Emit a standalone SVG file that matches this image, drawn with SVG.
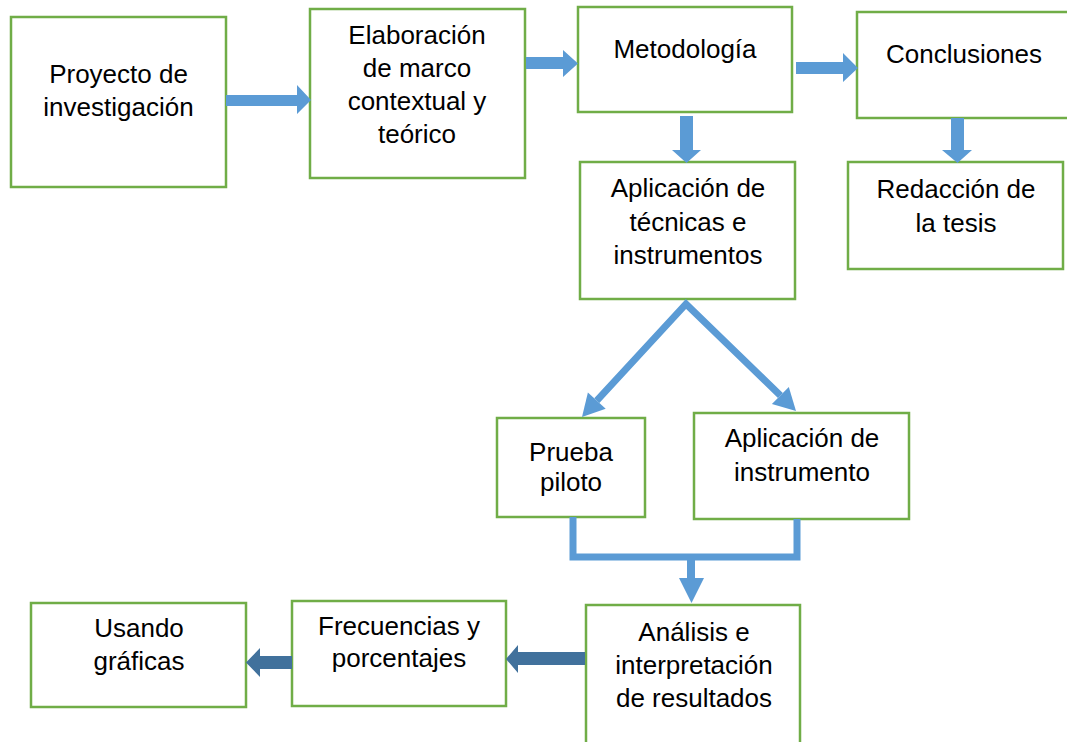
<svg xmlns="http://www.w3.org/2000/svg" width="1067" height="742" viewBox="0 0 1067 742">
<style>
.box{fill:#fff;stroke:#70AD47;stroke-width:2.5}
.t{font-family:"Liberation Sans",Arial,sans-serif;font-size:26px;fill:#000;text-anchor:middle}
.a{fill:#5B9BD5}
.d{fill:#41719C}
.l{fill:none;stroke:#5B9BD5;stroke-width:7}
</style>
<rect width="1067" height="742" fill="#fff"/>
<g id="n1"><rect class="box" x="11" y="17" width="215" height="170"/><text class="t" x="118.5" y="83">Proyecto de</text><text class="t" x="118.5" y="116">investigación</text></g>
<g id="n2"><rect class="box" x="310" y="9" width="215" height="169"/><text class="t" x="417" y="44">Elaboración</text><text class="t" x="417" y="77">de marco</text><text class="t" x="417" y="110">contextual y</text><text class="t" x="417" y="143">teórico</text></g>
<g id="n3"><rect class="box" x="578" y="7" width="214" height="105"/><text class="t" x="685" y="58">Metodología</text></g>
<g id="n4"><rect class="box" x="857" y="12" width="215" height="106"/><text class="t" x="964" y="63">Conclusiones</text></g>
<g id="n5"><rect class="box" x="580" y="162" width="215" height="137"/><text class="t" x="688" y="197">Aplicación de</text><text class="t" x="688" y="231">técnicas e</text><text class="t" x="688" y="264">instrumentos</text></g>
<g id="n6"><rect class="box" x="848" y="162" width="215" height="107"/><text class="t" x="956" y="198">Redacción de</text><text class="t" x="956" y="232">la tesis</text></g>
<g id="n7"><rect class="box" x="497" y="418" width="148" height="99"/><text class="t" x="571" y="461">Prueba</text><text class="t" x="571" y="491">piloto</text></g>
<g id="n8"><rect class="box" x="694" y="413" width="215" height="106"/><text class="t" x="802" y="447">Aplicación de</text><text class="t" x="802" y="481">instrumento</text></g>
<g id="n9"><rect class="box" x="586" y="605" width="214" height="145"/><text class="t" x="694" y="641">Análisis e</text><text class="t" x="694" y="674">interpretación</text><text class="t" x="694" y="707">de resultados</text></g>
<g id="n10"><rect class="box" x="292" y="601" width="214" height="105"/><text class="t" x="399" y="635">Frecuencias y</text><text class="t" x="399" y="667">porcentajes</text></g>
<g id="n11"><rect class="box" x="31" y="603" width="215" height="104"/><text class="t" x="139" y="637">Usando</text><text class="t" x="139" y="670">gráficas</text></g>
<g id="connectors">
<polygon class="a" points="226,95 297,95 297,85 311,100 297,114 297,106 226,106"/>
<polygon class="a" points="526,57 563,57 563,50 578,63.5 563,77 563,69 526,69"/>
<polygon class="a" points="796,62 843,62 843,53 858,68 843,82 843,74 796,74"/>
<polygon class="a" points="680,116 693,116 693,150 701,150 686.5,163 672,150 680,150"/>
<polygon class="a" points="951,118 964,118 964,150 972,150 957.5,163 942,150 951,150"/>
<polyline class="l" points="596.8,400.7 686,304 780.4,395.5" stroke-linejoin="miter"/>
<polygon class="a" points="582,417 587.9,392.6 605.7,408.8"/>
<polygon class="a" points="796,411 788.8,387 771.9,404"/>
<polyline class="l" points="573,517 573,557 797,557 797,519"/>
<polygon class="a" points="687,557 695,557 695,578 704,578 691.5,603 679,578 687,578"/>
<polygon class="d" points="585,652 518,652 518,645 506,659 518,673 518,665 585,665"/>
<polygon class="d" points="292,656 260,656 260,648 246,662.5 260,677 260,669 292,669"/>
</g>
</svg>
